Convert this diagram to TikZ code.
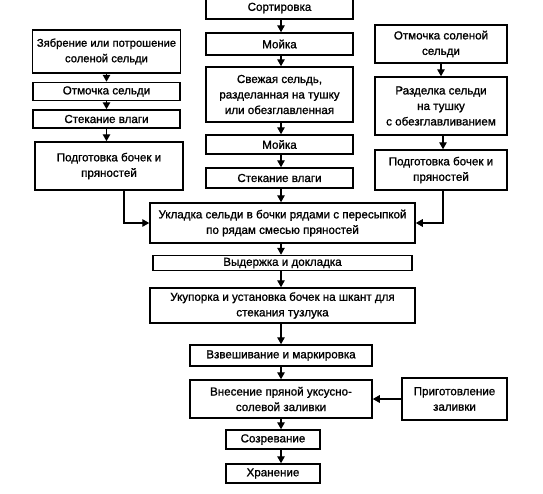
\documentclass[tikz,border=0pt]{standalone}
\usepackage{fontspec}
\setmainfont{Liberation Sans}[BoldFont={Liberation Sans},BoldFeatures={FakeBold=1.2}]
\usetikzlibrary{arrows.meta}
\begin{document}
\begin{tikzpicture}[x=1pt,y=-1pt,
  box/.style={draw,line width=1.5pt,inner sep=0pt,align=center,
    font=\fontsize{11.6}{15.5}\selectfont\bfseries},
  arr/.style={line width=1.4pt,-{Triangle[length=7pt,width=7.5pt]}}]
\useasboundingbox[fill=white] (0,0) rectangle (543,493);
% centre column
\node[box,minimum width=147pt,minimum height=22pt] (sort) at (279.5,8) {Сортировка};
\node[box,minimum width=147pt,minimum height=22pt] (moika1) at (279.5,44) {Мойка};
\node[box,minimum width=147pt,minimum height=55pt] (fresh) at (279.5,94.5) {Свежая сельдь,\\разделанная на тушку\\или обезглавленная};
\node[box,minimum width=147pt,minimum height=19pt] (moika2) at (279.5,144.5) {Мойка};
\node[box,minimum width=147pt,minimum height=20pt] (stekC) at (279.5,178) {Стекание влаги};
% left column
\node[box,minimum width=148pt,minimum height=43pt,font=\fontsize{11.2}{15.5}\selectfont\bfseries] (zhab) at (106.5,51.5) {Зябрение или потрошение\\соленой сельди};
\node[box,minimum width=147pt,minimum height=18pt] (otm) at (106.5,91.5) {Отмочка сельди};
\node[box,minimum width=147pt,minimum height=18pt] (stekL) at (106.5,119) {Стекание влаги};
\node[box,minimum width=148pt,minimum height=48pt] (podgL) at (109,166) {Подготовка бочек и\\пряностей};
% right column
\node[box,minimum width=132pt,minimum height=38pt] (otmS) at (441,44) {Отмочка соленой\\сельди};
\node[box,minimum width=132pt,minimum height=58pt] (razd) at (441,106) {Разделка сельди\\на тушку\\с обезглавливанием};
\node[box,minimum width=132pt,minimum height=40pt] (podgR) at (441,170) {Подготовка бочек и\\пряностей};
% lower part
\node[box,minimum width=265pt,minimum height=40pt] (ukl) at (282.5,223) {Укладка сельди в бочки рядами с пересыпкой\\по рядам смесью пряностей};
\node[box,minimum width=259pt,minimum height=15pt] (vyd) at (282.5,263) {Выдержка и докладка};
\node[box,minimum width=265pt,minimum height=35pt] (ukup) at (282.5,305.5) {Укупорка и установка бочек на шкант для\\стекания тузлука};
\node[box,minimum width=182pt,minimum height=21pt] (vzv) at (281,355.5) {Взвешивание и маркировка};
\node[box,minimum width=182pt,minimum height=38pt] (vnes) at (281,399) {Внесение пряной уксусно-\\солевой заливки};
\node[box,minimum width=105pt,minimum height=42pt] (prig) at (454.5,399) {Приготовление\\заливки};
\node[box,minimum width=94pt,minimum height=19pt] (sozr) at (273,439.5) {Созревание};
\node[box,minimum width=94pt,minimum height=19pt] (hran) at (273,473.5) {Хранение};
% arrow axes
\coordinate (ax) at (281,0);
\coordinate (lx) at (124,223);
\coordinate (rx) at (443,223);
% centre arrows
\draw[arr] (sort.south -| ax) -- (moika1.north -| ax);
\draw[arr] (moika1.south -| ax) -- (fresh.north -| ax);
\draw[arr] (fresh.south -| ax) -- (moika2.north -| ax);
\draw[arr] (moika2.south -| ax) -- (stekC.north -| ax);
\draw[arr] (stekC.south -| ax) -- (ukl.north -| ax);
\draw[arr] (ukl.south -| ax) -- (vyd.north -| ax);
\draw[arr] (vyd.south -| ax) -- (ukup.north -| ax);
\draw[arr] (ukup.south -| ax) -- (vzv.north -| ax);
\draw[arr] (vzv.south -| ax) -- (vnes.north -| ax);
\draw[arr] (vnes.south -| ax) -- (sozr.north -| ax);
\draw[arr] (sozr.south -| ax) -- (hran.north -| ax);
% left arrows
\draw[arr] (zhab) -- (otm);
\draw[arr] (otm) -- (stekL);
\draw[arr] (stekL.south) -- (stekL.south |- podgL.north);
\draw[arr] (podgL.south -| lx) -- (lx) -- (ukl.west |- lx);
% right arrows
\draw[arr] (otmS) -- (razd);
\draw[arr] (razd.south -| rx) -- (podgR.north -| rx);
\draw[arr] (podgR.south -| rx) -- (rx) -- (ukl.east |- rx);
% preparation
\draw[arr] (prig) -- (vnes);
\end{tikzpicture}
\end{document}
